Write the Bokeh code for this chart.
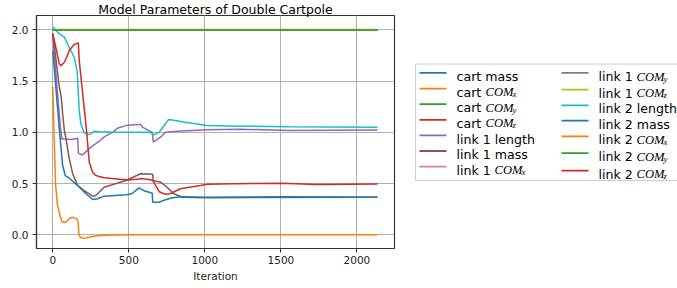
from bokeh.plotting import figure
from bokeh.layouts import row
from bokeh.models import Range1d, FixedTicker, ColumnDataSource, NumeralTickFormatter
from bokeh.core.properties import value
from bokeh.embed import file_html
from bokeh.resources import INLINE

TITLE = "Model Parameters of Double Cartpole"
X_LABEL = "Iteration"
X_TICKS = [0, 500, 1000, 1500, 2000]
Y_TICKS = [0.0, 0.5, 1.0, 1.5, 2.0]

legend_labels = [
    "cart mass", "cart $COM_x$", "cart $COM_y$", "cart $COM_z$",
    "link 1 length", "link 1 mass", "link 1 $COM_x$",
    "link 1 $COM_y$", "link 1 $COM_z$", "link 2 length", "link 2 mass",
    "link 2 $COM_x$", "link 2 $COM_y$", "link 2 $COM_z$",
]
colors = [
    "#1f77b4", "#ff7f0e", "#2ca02c", "#d62728", "#9467bd", "#8c564b", "#e377c2",
    "#7f7f7f", "#bcbd22", "#17becf", "#1f77b4", "#ff7f0e", "#2ca02c", "#d62728",
]

# ---- series (iteration breakpoints, values) ----
cart_mass_it = [0, 2135]
cart_mass = [2.0, 2.0]
cart_comx_it = [0, 2135]
cart_comx = [2.0, 2.0]
cart_comy_it = [0, 2135]
cart_comy = [2.0, 2.0]
cart_comz_it = [0, 2135]
cart_comz = [2.0, 2.0]

link1_length_it = [0, 30, 50, 60, 82, 120, 164, 168, 185, 196, 251, 316, 338, 393, 425, 491,
                   567, 580, 589, 654, 661, 709, 741, 818, 1014, 1232, 1560, 2135]
link1_length = [1.95, 1.40, 1.05, 0.935, 0.935, 0.93, 0.943, 0.80, 0.783, 0.78, 0.855, 0.925,
                0.955, 1.0, 1.04, 1.07, 1.075, 1.075, 1.05, 1.0, 0.905, 0.952, 1.0, 1.01,
                1.024, 1.03, 1.017, 1.022]

link1_mass_it = [0, 22, 43, 55, 65, 76, 87, 109, 131, 164, 207, 262, 283, 338, 480, 578,
                 657, 660, 709, 752, 796, 851, 1000, 2135]
link1_mass = [1.96, 1.70, 1.44, 1.35, 1.18, 1.02, 0.937, 0.741, 0.595, 0.48, 0.432, 0.377,
              0.383, 0.464, 0.53, 0.595, 0.59, 0.53, 0.513, 0.464, 0.40, 0.367, 0.362, 0.365]

link1_comx_it = [0, 2135]
link1_comx = [2.0, 2.0]
link1_comy_it = [0, 2135]
link1_comy = [2.0, 2.0]
link1_comz_it = [0, 2135]
link1_comz = [2.004, 2.004]

link2_length_it = [0, 43, 76, 98, 141, 160, 164, 174, 185, 205, 229, 250, 270, 300, 400, 575,
                   640, 665, 700, 741, 763, 861, 1014, 1232, 1560, 2135]
link2_length = [2.03, 1.96, 1.93, 1.86, 1.73, 1.60, 1.50, 1.21, 1.08, 1.0, 0.975, 0.985, 1.01,
                1.005, 1.0, 1.0, 1.0, 0.976, 1.0, 1.083, 1.125, 1.10, 1.066, 1.06, 1.055, 1.05]

link2_mass_it = [0, 28, 45, 65, 82, 109, 164, 218, 262, 294, 338, 480, 520, 567, 600, 654,
                 657, 698, 741, 785, 840, 1000, 1500, 2135]
link2_mass = [1.80, 1.30, 1.00, 0.676, 0.578, 0.552, 0.48, 0.40, 0.344, 0.351, 0.377, 0.39,
              0.40, 0.457, 0.43, 0.406, 0.318, 0.318, 0.341, 0.361, 0.372, 0.365, 0.37, 0.365]

link2_comx_it = [0, 8, 18, 30, 45, 60, 75, 90, 115, 135, 158, 166, 172, 185, 210, 250, 300,
                 400, 550, 2135]
link2_comx = [1.447, 1.0, 0.5, 0.30, 0.20, 0.13, 0.12, 0.13, 0.165, 0.17, 0.155, 0.13, 0.0,
              -0.03, -0.035, -0.02, -0.01, -0.003, 0.0, 0.0]

link2_comy_it = [0, 2135]
link2_comy = [1.998, 1.998]

link2_comz_it = [0, 43, 54, 76, 92, 109, 141, 168, 174, 222, 240, 262, 281, 305, 338, 491,
                 567, 577, 643, 657, 700, 740, 770, 840, 971, 1014, 1188, 1505, 1734, 2135]
link2_comz = [1.967, 1.668, 1.65, 1.684, 1.733, 1.80, 1.857, 1.873, 1.70, 1.017, 0.708, 0.61,
              0.58, 0.569, 0.556, 0.535, 0.545, 0.55, 0.537, 0.53, 0.42, 0.395, 0.40, 0.449,
              0.48, 0.492, 0.497, 0.503, 0.49, 0.495]

series = [
    (cart_mass_it, cart_mass), (cart_comx_it, cart_comx), (cart_comy_it, cart_comy),
    (cart_comz_it, cart_comz), (link1_length_it, link1_length), (link1_mass_it, link1_mass),
    (link1_comx_it, link1_comx), (link1_comy_it, link1_comy), (link1_comz_it, link1_comz),
    (link2_length_it, link2_length), (link2_mass_it, link2_mass), (link2_comx_it, link2_comx),
    (link2_comy_it, link2_comy), (link2_comz_it, link2_comz),
]

FONT = "DejaVu Sans"
AX_COL = "#333333"

p = figure(width=400, height=288, x_range=Range1d(-107, 2247), y_range=Range1d(-0.134, 2.14),
           output_backend="svg", toolbar_location=None,
           min_border_left=36, min_border_right=6, min_border_top=15, min_border_bottom=40,
           background_fill_color="white", border_fill_color="white")
p.title.text = TITLE
p.title.text_font = FONT
p.title.text_font_size = "12.5px"
p.title.text_font_style = "normal"
p.title.text_color = "black"
p.title.align = "center"
p.title.standoff = -3

p.outline_line_color = AX_COL
p.outline_line_width = 1.2

for ax in (p.xaxis[0], p.yaxis[0]):
    ax.axis_line_color = AX_COL
    ax.axis_line_width = 1.2
    ax.major_tick_line_color = AX_COL
    ax.major_tick_out = 4
    ax.major_tick_in = 0
    ax.minor_tick_line_color = None
    ax.major_label_text_font = FONT
    ax.major_label_text_font_size = "10.5px"
    ax.major_label_text_color = "#222222"

p.xaxis.ticker = FixedTicker(ticks=X_TICKS)
p.yaxis.ticker = FixedTicker(ticks=Y_TICKS)
p.yaxis.formatter = NumeralTickFormatter(format="0.0")
p.xaxis.major_label_standoff = 3
p.yaxis.major_label_standoff = 4
p.xaxis.axis_label = X_LABEL
p.xaxis.axis_label_text_font = FONT
p.xaxis.axis_label_text_font_size = "10.5px"
p.xaxis.axis_label_text_font_style = "normal"
p.xaxis.axis_label_text_color = "#222222"
p.xaxis.axis_label_standoff = 3

p.xgrid.ticker = FixedTicker(ticks=X_TICKS)
p.ygrid.ticker = FixedTicker(ticks=Y_TICKS)
p.grid.grid_line_color = "#b0b0b0"
p.grid.grid_line_width = 1

for (it, vals), c in zip(series, colors):
    p.line(x=it, y=vals, line_color=c, line_width=1.5)

# ---- legend panel ----
leg = figure(width=277, height=288, x_range=Range1d(0, 277), y_range=Range1d(288, 0),
             output_backend="svg", toolbar_location=None, min_border=0,
             x_axis_type=None, y_axis_type=None, outline_line_color=None,
             background_fill_color="white", border_fill_color="white")
leg.grid.visible = False

leg.quad(left=15, right=300, top=60, bottom=204, fill_color="white",
         line_color="#cccccc", line_width=1)

col_x_line = [19, 161]
col_x_text = [56, 198]
col_rows = [[71, 90.3, 109.6, 128.9, 148.2, 167.5, 186.8],
            [71, 91.7, 111, 130, 149.3, 170, 191.7]]
prefix_width = {"cart ": 29, "link 1 ": 38, "link 2 ": 38}

seg = dict(x0=[], x1=[], y=[], c=[])
plain = dict(x=[], y=[], t=[])
mathm = dict(x=[], y=[], t=[])
subs = dict(x=[], y=[], t=[])
for i, (lab, c) in enumerate(zip(legend_labels, colors)):
    col = 0 if i < 7 else 1
    y = col_rows[col][i % 7]
    seg["x0"].append(col_x_line[col]); seg["x1"].append(col_x_line[col] + 27)
    seg["y"].append(y); seg["c"].append(c)
    if "$" in lab:
        pre, m, _ = lab.split("$")
        base, sub = m.split("_")
        plain["x"].append(col_x_text[col]); plain["y"].append(y + 4.5); plain["t"].append(pre.rstrip())
        mx = col_x_text[col] + prefix_width[pre]
        mathm["x"].append(mx); mathm["y"].append(y + 4.5); mathm["t"].append(base)
        subs["x"].append(mx + 27); subs["y"].append(y + 7); subs["t"].append(sub)
    else:
        plain["x"].append(col_x_text[col]); plain["y"].append(y + 4.5); plain["t"].append(lab)

leg.segment(x0="x0", x1="x1", y0="y", y1="y", line_color="c", line_width=1.8,
            source=ColumnDataSource(seg))
leg.text(x="x", y="y", text="t", source=ColumnDataSource(plain), text_font=value(FONT),
         text_font_size=value("12.6px"), text_baseline="alphabetic", text_color="black")
leg.text(x="x", y="y", text="t", source=ColumnDataSource(mathm),
         text_font=value("Liberation Serif"), text_font_style="italic",
         text_font_size=value("12.6px"), text_baseline="alphabetic", text_color="black")
leg.text(x="x", y="y", text="t", source=ColumnDataSource(subs),
         text_font=value("Liberation Serif"), text_font_style="italic",
         text_font_size=value("8.8px"), text_baseline="alphabetic", text_color="black")

layout = row(p, leg)

open("out.html", "w").write(file_html(layout, INLINE))
